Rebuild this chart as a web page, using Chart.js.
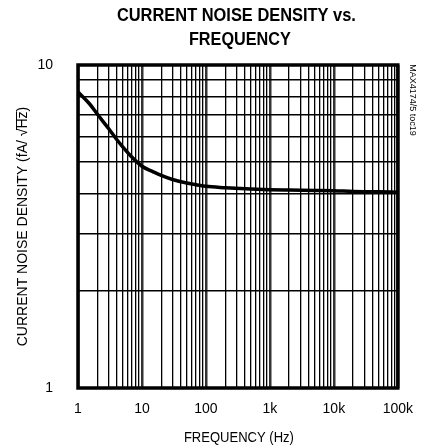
<!DOCTYPE html>
<html>
<head>
<meta charset="utf-8">
<script src="https://cdn.jsdelivr.net/npm/chart.js@4.4.1/dist/chart.umd.min.js"></script>
<style>
html,body{margin:0;padding:0;background:#fff;}
</style>
</head>
<body>
<canvas id="c" width="426" height="448" style="display:block;width:426px;height:448px"></canvas>
<script>
// ---- data ----
const frequencyHz = [1, 1.5, 2, 3, 4, 5, 7, 10, 15, 20, 30, 50, 70, 100, 200, 500, 1000, 2000, 5000, 10000, 20000, 50000, 100000];
const noiseDensity = [8.25, 7.6, 7.05, 6.36, 5.89, 5.58, 5.18, 4.86, 4.67, 4.55, 4.42, 4.31, 4.26, 4.21, 4.17, 4.13, 4.11, 4.10, 4.09, 4.08, 4.06, 4.05, 4.04];
const xDecades = [1, 10, 100, 1000, 10000, 100000];
const xTickLabels = ['1', '10', '100', '1k', '10k', '100k'];
const yGridValues = [1, 2, 3, 4, 5, 6, 7, 8, 9, 10];
const yTickValues = [1, 10];
const yTickLabels = ['1', '10'];
const gridMultipliers = [1, 2, 3, 4, 5, 6, 7, 8, 9];
const titleLines = ['CURRENT NOISE DENSITY vs.', 'FREQUENCY'];
const xTitle = 'FREQUENCY (Hz)';
const yTitle = 'CURRENT NOISE DENSITY (fA/ \u221AHz)';
const sideNote = 'MAX4174/5 toc19';

const FONT = '"Liberation Sans", Arial, sans-serif';
const isDecade = v => Math.abs(Math.log10(v) - Math.round(Math.log10(v))) < 1e-9;

function labelFor(values, labels, v) {
  for (let i = 0; i < values.length; i++) if (Math.abs(values[i] - v) < 1e-6 * values[i]) return labels[i];
  return '';
}

const xGridValues = [];
xDecades.slice(0, -1).forEach(d => gridMultipliers.forEach(m => xGridValues.push(d * m)));
xGridValues.push(xDecades[xDecades.length - 1]);

// draw text centred at the current origin, horizontally condensed to a width
function drawCondensed(ctx, text, width) {
  const natural = ctx.measureText(text).width;
  const sx = Math.min(1, width / natural);
  ctx.save();
  ctx.scale(sx, 1);
  ctx.textAlign = 'center';
  ctx.fillText(text, 0, 0);
  ctx.restore();
}

const textPlugin = {
  id: 'textPlugin',
  afterDraw(chart) {
    const ctx = chart.ctx;
    const a = chart.chartArea;
    ctx.save();
    ctx.strokeStyle = '#000';
    ctx.lineWidth = 3.5;
    ctx.strokeRect(a.left, a.top, a.right - a.left, a.bottom - a.top);
    ctx.restore();

    const cx = (a.left + a.right) / 2;
    // title
    ctx.save();
    ctx.fillStyle = '#000';
    ctx.textBaseline = 'alphabetic';
    ctx.font = 'bold 18px ' + FONT;
    ctx.save(); ctx.translate(cx - 1.5, 21); drawCondensed(ctx, titleLines[0], 239); ctx.restore();
    ctx.save(); ctx.translate(cx + 2, 45); drawCondensed(ctx, titleLines[1], 102); ctx.restore();
    ctx.restore();

    // x title
    ctx.save();
    ctx.fillStyle = '#000';
    ctx.textBaseline = 'middle';
    ctx.font = '14px ' + FONT;
    ctx.translate(cx + 1, 438);
    drawCondensed(ctx, xTitle, 110);
    ctx.restore();

    // y title
    ctx.save();
    ctx.fillStyle = '#000';
    ctx.translate(23, (a.top + a.bottom) / 2);
    ctx.rotate(-Math.PI / 2);
    ctx.font = '14px ' + FONT;
    ctx.textBaseline = 'middle';
    const natural = ctx.measureText(yTitle).width;
    const sx = Math.min(1, 247 / natural);
    ctx.scale(sx, 1);
    ctx.textAlign = 'left';
    const x0 = -natural / 2;
    ctx.fillText(yTitle, x0, 0);
    const wPre = ctx.measureText(yTitle.slice(0, yTitle.indexOf('Hz'))).width;
    const wHz = ctx.measureText('Hz').width;
    ctx.fillRect(x0 + wPre - 1.5, -7, wHz + 1.5, 1);
    ctx.restore();

    // side note
    ctx.save();
    ctx.fillStyle = '#000';
    ctx.translate(412, 100);
    ctx.rotate(Math.PI / 2);
    ctx.font = '9px ' + FONT;
    ctx.textBaseline = 'middle';
    drawCondensed(ctx, sideNote, 76);
    ctx.restore();
  }
};

new Chart(document.getElementById('c'), {
  type: 'line',
  data: {
    datasets: [{
      data: frequencyHz.map((f, i) => ({ x: f, y: noiseDensity[i] })),
      borderColor: '#000',
      borderWidth: 3.5,
      pointRadius: 0,
      fill: false,
      cubicInterpolationMode: 'monotone'
    }]
  },
  options: {
    responsive: false,
    animation: false,
    devicePixelRatio: 1,
    layout: { padding: { top: 65, right: 26, left: 0, bottom: 0 } },
    plugins: { legend: { display: false }, title: { display: false }, tooltip: { enabled: false } },
    scales: {
      x: {
        type: 'logarithmic',
        min: 1, max: 100000,
        afterBuildTicks(s) { s.ticks = xGridValues.map(v => ({ value: v })); },
        afterFit(s) { s.height = 60; },
        border: { display: false },
        grid: {
          drawTicks: false,
          color: ctx => (ctx.tick && isDecade(ctx.tick.value)) ? '#333' : '#000',
          lineWidth: ctx => (ctx.tick && isDecade(ctx.tick.value)) ? 2.5 : 1.3
        },
        ticks: {
          autoSkip: false, maxRotation: 0, minRotation: 0,
          padding: 13,
          color: '#000',
          font: { family: FONT, size: 14 },
          callback: v => labelFor(xDecades, xTickLabels, v)
        }
      },
      y: {
        type: 'logarithmic',
        min: 1, max: 10,
        afterBuildTicks(s) { s.ticks = yGridValues.map(v => ({ value: v })); },
        afterFit(s) { s.width = 78; },
        border: { display: false },
        grid: {
          drawTicks: false,
          color: '#000',
          lineWidth: 1.5
        },
        ticks: {
          autoSkip: false,
          padding: 25,
          color: '#000',
          font: { family: FONT, size: 14 },
          callback: v => labelFor(yTickValues, yTickLabels, v)
        }
      }
    }
  },
  plugins: [textPlugin]
});
</script>
</body>
</html>
